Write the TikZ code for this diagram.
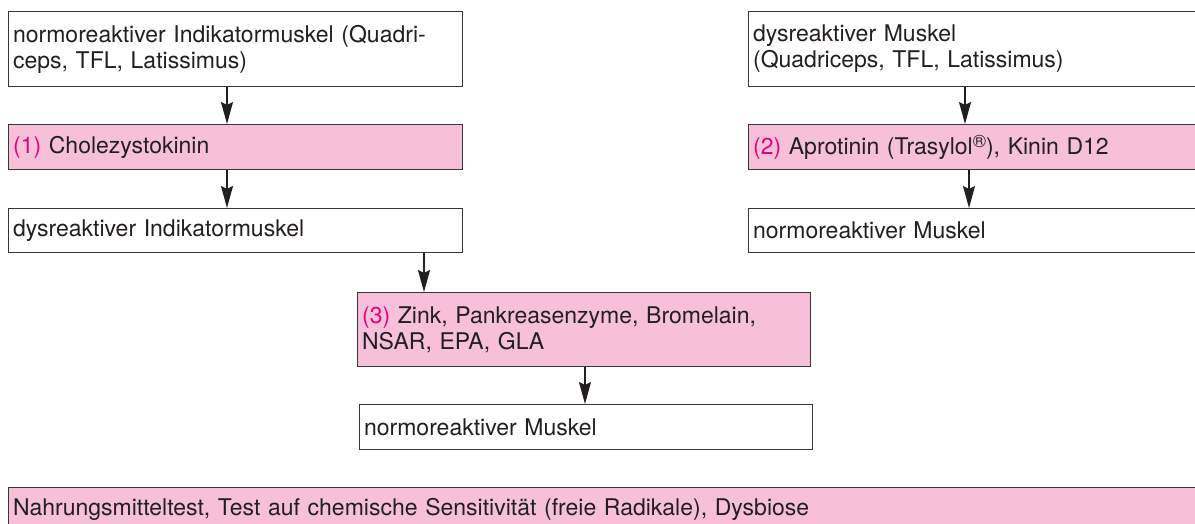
\documentclass[tikz,border=0pt]{standalone}
\usepackage{fontspec}
\setmainfont{TeX Gyre Heros}
\usetikzlibrary{arrows.meta}
\definecolor{boxpink}{RGB}{246,192,217}
\definecolor{nummag}{RGB}{229,0,125}
\definecolor{ink}{RGB}{35,31,32}
\definecolor{frame}{RGB}{55,55,55}
\newcommand{\num}[1]{\textcolor{nummag}{#1}}
\newcommand{\regmark}{\raisebox{7pt}{\fontsize{18}{18}\selectfont ®}}

\begin{document}
\begin{tikzpicture}[x=1pt,y=-1pt,
  box/.style={draw=frame, line width=1.2pt, anchor=north west,
    inner xsep=4.5pt, inner ysep=0pt, align=left, text=ink,
    font=\fontsize{23}{26}\selectfont},
  pinkbox/.style={box, fill=boxpink},
  arr/.style={draw=ink, line width=1.3pt,
    -{Stealth[length=22pt,width=12pt,inset=3pt]}}
]
\clip (0,0) rectangle (1195,524);
\fill[white] (0,0) rectangle (1195,524);

% left column
\node[box, text width=445pt, minimum height=75pt] (A) at (8,11)
  {normoreaktiver Indikatormuskel (Quadri-\\ceps, TFL, Latissimus)};
\node[pinkbox, text width=445pt, minimum height=45pt] (P1) at (8,124)
  {\num{(1)} Cholezystokinin};
\node[box, text width=445pt, minimum height=44pt] (dysL) at (8,208)
  {dysreaktiver Indikatormuskel};

% right column
\node[box, text width=451pt, minimum height=75pt] (B) at (748,11)
  {dysreaktiver Muskel\\(Quadriceps, TFL, Latissimus)};
\node[pinkbox, text width=451pt, minimum height=45pt] (P2) at (748,124)
  {\num{(2)} Aprotinin (Trasylol\regmark), Kinin D12};
\node[box, text width=451pt, minimum height=44pt] (normR) at (748,208)
  {normoreaktiver Muskel};

% middle column
\node[pinkbox, text width=444pt, minimum height=74pt] (P3) at (357,292)
  {\num{(3)} Zink, Pankreasenzyme, Bromelain,\\NSAR, EPA, GLA};
\node[box, text width=444pt, minimum height=45pt] (norm3) at (359,404)
  {normoreaktiver Muskel};

% bottom strip, running off the lower and right edges
\node[pinkbox, text width=1191pt, minimum height=44pt] (bottom) at (8,487)
  {Nahrungsmitteltest, Test auf chemische Sensitivität (freie Radikale), Dysbiose};

% arrow columns
\coordinate (c1) at (227,0);
\coordinate (c2) at (965,0);
\coordinate (c3) at (969,0);
\coordinate (c4) at (424,0);
\coordinate (c5) at (585,0);

\draw[arr] (A.south -| c1) -- (P1.north -| c1);
\draw[arr] (P1.south -| c1) -- (dysL.north -| c1);
\draw[arr] (B.south -| c2) -- (P2.north -| c2);
\draw[arr] (P2.south -| c3) -- (normR.north -| c3);
\draw[arr] (dysL.south -| c4) -- (P3.north -| c4);
\draw[arr] (P3.south -| c5) -- (norm3.north -| c5);
\end{tikzpicture}
\end{document}
